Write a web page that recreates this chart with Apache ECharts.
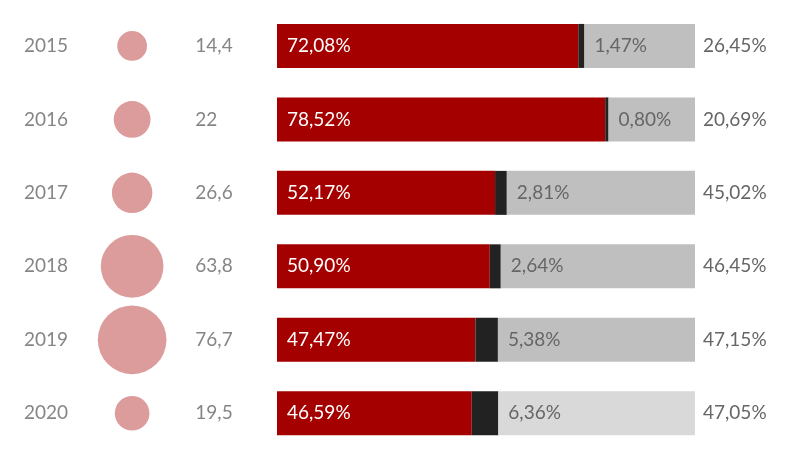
<!DOCTYPE html><html><head><meta charset="utf-8">
<script src="https://cdn.jsdelivr.net/npm/echarts@6/dist/echarts.min.js"></script>
<style>html,body{margin:0;background:#fff}#c{width:800px;height:450px}</style></head><body><div id="c"></div>
<script>
const years=['2015','2016','2017','2018','2019','2020'];
const totals=[14.4,22,26.6,63.8,76.7,19.5];
const redPct=[72.08,78.52,52.17,50.90,47.47,46.59];
const blackPct=[1.47,0.80,2.81,2.64,5.38,6.36];
const grayPct=[26.45,20.69,45.02,46.45,47.15,47.05];
const fmt=v=>v.toFixed(2).replace('.',',')+'%';
const fmtN=v=>String(v).replace('.',',');
const font='Lato';
const txt='#666';
const chart=echarts.init(document.getElementById('c'));
const gTop=9.2,gH=465.6;
chart.setOption({
 animation:false,
 textStyle:{fontFamily:font},
 grid:[{left:277,width:418,top:gTop,height:gH},{left:0,width:277,top:gTop,height:gH}],
 xAxis:[{gridIndex:0,type:'value',min:0,max:100,show:false},{gridIndex:1,type:'value',min:0,max:1,show:false}],
 yAxis:[{gridIndex:0,type:'category',data:years,inverse:true,show:false},
  {gridIndex:1,type:'category',data:years,inverse:true,show:false}],
 series:[
  {type:'bar',stack:'a',data:redPct,barWidth:44,itemStyle:{color:'#a50000'},
   label:{show:true,position:'insideLeft',distance:10,color:'#fff',fontSize:19,formatter:p=>fmt(p.value)}},
  {type:'bar',stack:'a',data:blackPct,itemStyle:{color:'#222'},
   label:{show:true,position:'right',distance:10,color:txt,fontSize:19,formatter:p=>fmt(p.value)}},
  {type:'bar',stack:'a',data:grayPct.map((v,i)=>({value:v,itemStyle:{color:i===5?'#d9d9d9':'#bfbfbf'}})),
   label:{show:true,position:'right',distance:8,color:txt,fontSize:19,formatter:p=>fmt(p.value)}},
  {type:'scatter',xAxisIndex:1,yAxisIndex:1,data:totals.map((v,i)=>[0.477,years[i],v]),
   symbolSize:d=>7.85*Math.sqrt(d[2]),itemStyle:{color:'#dc9c9c',opacity:1},silent:true},
  {type:'scatter',xAxisIndex:1,yAxisIndex:1,data:totals.map((v,i)=>[0.705,years[i],v]),symbolSize:0,
   label:{show:true,position:'right',distance:0,color:txt,fontSize:19,formatter:p=>fmtN(p.data[2])}},
  {type:'scatter',xAxisIndex:1,yAxisIndex:1,data:years.map(y=>[0.166,y]),symbolSize:0,
   label:{show:true,position:'inside',color:txt,fontSize:19,formatter:p=>p.data[1]}}
 ]
});
</script></body></html>
